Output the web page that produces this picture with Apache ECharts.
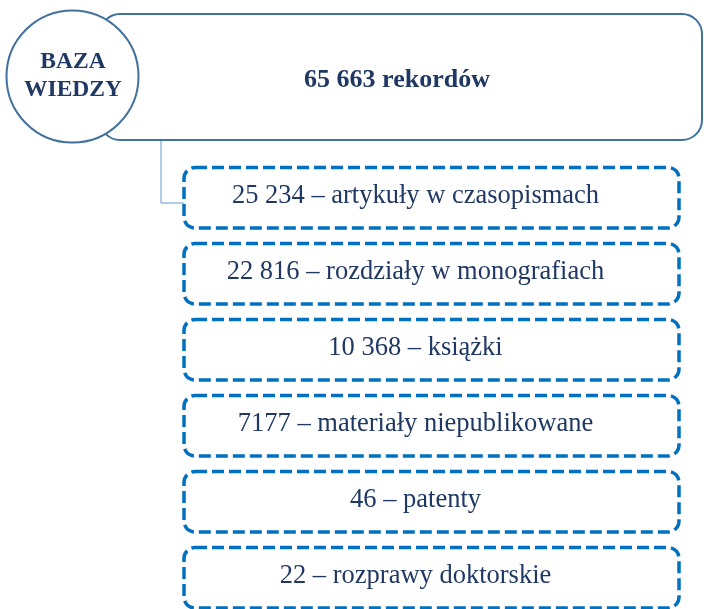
<!DOCTYPE html>
<html>
<head>
<meta charset="utf-8">
<script src="https://cdn.jsdelivr.net/npm/echarts@6/dist/echarts.min.js"></script>
<style>
  html, body { margin: 0; padding: 0; background: #fff; }
  #chart { width: 704px; height: 609px; }
</style>
</head>
<body>
<div id="chart"></div>
<script>
// record types and counts in the knowledge base
const types = ['artykuły w czasopismach', 'rozdziały w monografiach', 'książki',
  'materiały niepublikowane', 'patenty', 'rozprawy doktorskie']
const counts = [25234, 22816, 10368, 7177, 46, 22]
const baseName = 'BAZA\nWIEDZY'
const totalSuffix = 'rekordów'

const total = counts.reduce((a, b) => a + b, 0)

// polish style: 4 digit numbers stay together
const fmt = (n) => n >= 10000 ? String(n).replace(/\B(?=(\d{3})+(?!\d))/g, ' ') : String(n)

const navy = '#203864'
const frame = '#41719c'
const dash = '#0070c0'

// rows are 76px apart, the last one nearly touches the bottom edge
const gridTop = 159.75
const rowPitch = 76
const yMax = -0.5 + (609 - gridTop) / rowPitch

let chart = echarts.init(document.getElementById('chart'))

let option = {
  animation: false,
  grid: { left: 184, right: 25, top: gridTop, bottom: 0 },
  xAxis: { type: 'value', min: 0, max: 1, show: false },
  yAxis: { type: 'value', min: -0.5, max: yMax, inverse: true, show: false },
  graphic: [
    {
      type: 'rect',
      shape: { x: 100, y: 14, width: 602, height: 126, r: 20 },
      style: { fill: '#fff', stroke: frame, lineWidth: 2 }
    },
    {
      type: 'polyline',
      shape: { points: [[161, 141], [161, 203], [184, 203]] },
      style: { stroke: '#5b9bd5', lineWidth: 1, fill: null }
    },
    {
      type: 'circle',
      shape: { cx: 72.5, cy: 76.5, r: 66 },
      style: { fill: '#fff', stroke: frame, lineWidth: 2 }
    },
    {
      type: 'text',
      x: 73, y: 76,
      style: {
        text: baseName, fill: navy, align: 'center', verticalAlign: 'middle',
        font: 'bold 23.5px "Liberation Serif"', lineHeight: 28
      }
    },
    {
      type: 'text',
      x: 397, y: 80,
      style: {
        text: fmt(total) + ' ' + totalSuffix, fill: navy, align: 'center', verticalAlign: 'middle',
        font: 'bold 26px "Liberation Serif"'
      }
    }
  ],
  series: [
    {
      type: 'custom',
      encode: { x: 0, y: 1 },
      data: counts.map((c, i) => [0, i, c]),
      clip: false,
      renderItem: (params, api) => {
        let p = api.coord([0, api.value(1)])
        let band = api.size([0, 1])[1]
        let h = band * 0.796
        let cs = params.coordSys
        let label = fmt(api.value(2)) + ' – ' + types[api.value(1)]
        return {
          type: 'group',
          children: [
            {
              type: 'rect',
              shape: { x: cs.x, y: p[1] - h / 2, width: cs.width, height: h, r: 11 },
              style: { fill: '#fff', stroke: dash, lineWidth: 3.5, lineDash: [12, 5] }
            },
            {
              type: 'text',
              x: cs.x + cs.width / 2 - 16,
              y: p[1] - 2,
              style: {
                text: label, fill: navy, align: 'center', verticalAlign: 'middle',
                font: '26.5px "Liberation Serif"'
              }
            }
          ]
        }
      }
    }
  ]
}

chart.setOption(option)
</script>
</body>
</html>
